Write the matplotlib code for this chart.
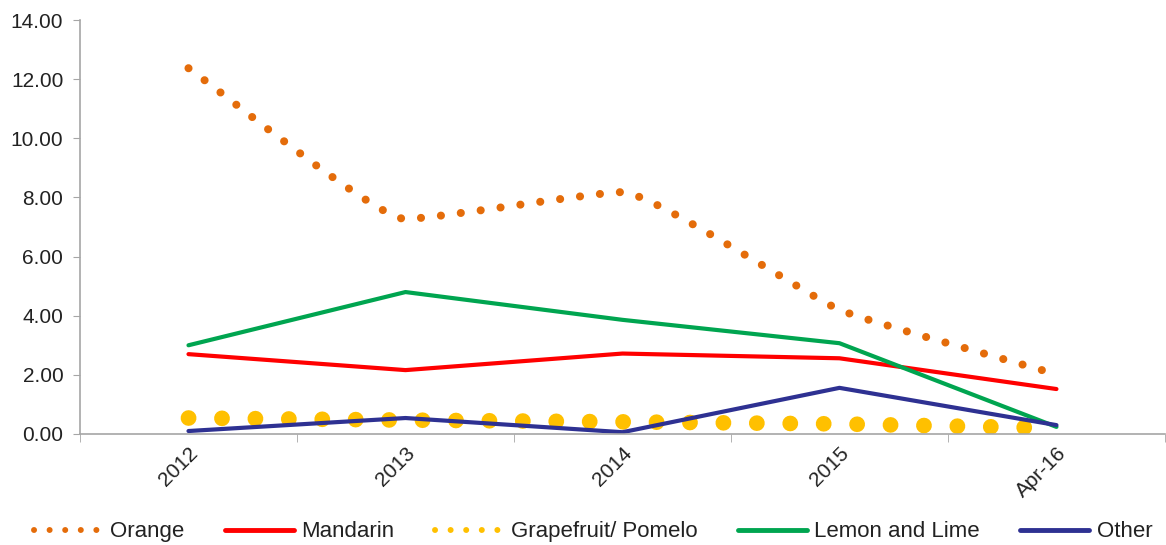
import matplotlib.pyplot as plt
import numpy as np
from matplotlib.path import Path
from matplotlib.patches import PathPatch
from matplotlib.lines import Line2D
from matplotlib.ticker import FormatStrFormatter

plt.rcParams['font.family'] = ['Liberation Sans', 'DejaVu Sans']

years = ['2012', '2013', '2014', '2015', 'Apr-16']
orange = [12.37, 7.27, 8.18, 4.2, 2.02]
mandarin = [2.7, 2.16, 2.72, 2.56, 1.52]
grapefruit = [0.54, 0.47, 0.41, 0.34, 0.2]
lemon = [3.0, 4.8, 3.86, 3.07, 0.24]
other = [0.1, 0.54, 0.06, 1.56, 0.3]

c_orange = '#E46C0A'
c_mandarin = '#FF0000'
c_grape = '#FFC000'
c_lemon = '#00A550'
c_other = '#2E3192'
c_text = '#222222'
c_axis = '#A6A6A6'

fig = plt.figure(figsize=(11.66, 5.45), dpi=100)
ax = fig.add_axes([0.0686, 0.2037, 0.9305, 0.7596])
x = np.arange(len(years))


def smooth_path(xs, ys, k=0.4):
    # smoothed line as cubic Beziers with short handles, flat at turns
    xs = np.asarray(xs, float)
    ys = np.asarray(ys, float)
    sec = np.diff(ys) / np.diff(xs)
    m = np.empty_like(ys)
    m[0], m[-1] = sec[0], sec[-1]
    for i in range(1, len(ys) - 1):
        m[i] = 0.0 if sec[i - 1] * sec[i] <= 0 else (sec[i - 1] + sec[i]) / 2
    verts = [(xs[0], ys[0])]
    codes = [Path.MOVETO]
    for i in range(len(xs) - 1):
        d = k * (xs[i + 1] - xs[i]) / 3
        verts += [(xs[i] + d, ys[i] + m[i] * d),
                  (xs[i + 1] - d, ys[i + 1] - m[i + 1] * d),
                  (xs[i + 1], ys[i + 1])]
        codes += [Path.CURVE4] * 3
    return Path(verts, codes)


ax.add_patch(PathPatch(smooth_path(x, orange), fill=False, edgecolor=c_orange,
                       lw=5.8, linestyle=(0, (0.01, 2.48)), capstyle='round'))
ax.plot(x, mandarin, color=c_mandarin, lw=3, solid_capstyle='round')
ax.plot(x, grapefruit, color=c_grape, lw=11.3, linestyle=(0, (0.01, 2.12)),
        dash_capstyle='round')
ax.plot(x, lemon, color=c_lemon, lw=3, solid_capstyle='round')
ax.plot(x, other, color=c_other, lw=3, solid_capstyle='round')

ax.set_xlim(-0.5, 4.5)
ax.set_ylim(0, 14)
ax.set_yticks(np.arange(0, 15, 2))
ax.yaxis.set_major_formatter(FormatStrFormatter('%.2f'))
ax.set_xticks(x)
ax.set_xticklabels(years, rotation=45, ha='right', rotation_mode='anchor')
ax.set_xticks(np.arange(-0.5, 5, 1), minor=True)
ax.tick_params(axis='x', which='major', length=0, pad=7, labelsize=15,
               labelcolor=c_text)
ax.tick_params(axis='x', which='minor', length=6, color=c_axis, direction='out')
ax.tick_params(axis='y', length=5, color=c_axis, labelsize=15,
               labelcolor=c_text, pad=7)
for s in ['top', 'right']:
    ax.spines[s].set_visible(False)
for s in ['left', 'bottom']:
    ax.spines[s].set_color(c_axis)
    ax.spines[s].set_linewidth(1.2)

handles = [
    Line2D([], [], color=c_orange, lw=4.3, linestyle=(0, (0.01, 2.6)),
           dash_capstyle='round'),
    Line2D([], [], color=c_mandarin, lw=3.5, solid_capstyle='round'),
    Line2D([], [], color=c_grape, lw=4.3, linestyle=(0, (0.01, 2.6)),
           dash_capstyle='round'),
    Line2D([], [], color=c_lemon, lw=3.5, solid_capstyle='round'),
    Line2D([], [], color=c_other, lw=3.5, solid_capstyle='round'),
]
labels = ['Orange', 'Mandarin', 'Grapefruit/ Pomelo', 'Lemon and Lime', 'Other']
leg = fig.legend(handles, labels, loc='center left', bbox_to_anchor=(0.029, 0.024),
                 ncol=5, frameon=False, fontsize=16, handlelength=3.1,
                 handletextpad=0.35, columnspacing=1.8, borderpad=0,
                 borderaxespad=0)
for t in leg.get_texts():
    t.set_color(c_text)

fig.savefig('out.png', dpi=100)
